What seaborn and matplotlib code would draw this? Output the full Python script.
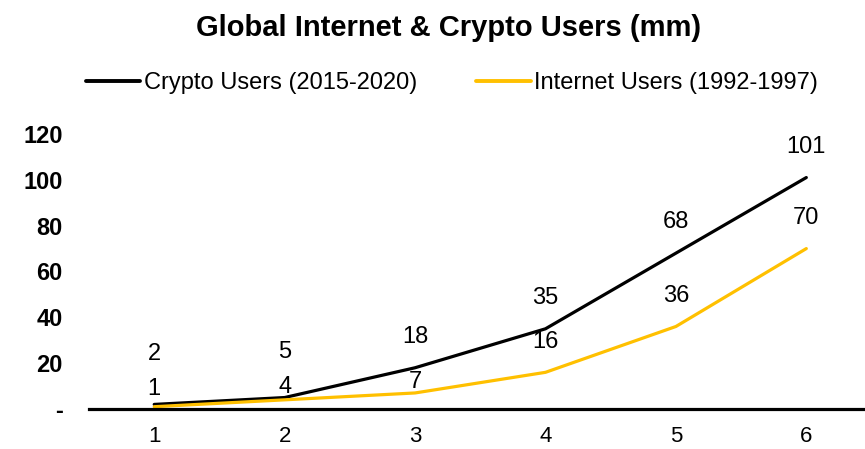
import matplotlib
matplotlib.use("Agg")
import matplotlib.pyplot as plt
import seaborn as sns
import pandas as pd
from matplotlib.lines import Line2D

periods = [1, 2, 3, 4, 5, 6]
crypto_users = [2, 5, 18, 35, 68, 101]
internet_users = [1, 4, 7, 16, 36, 70]
y_ticks = [0, 20, 40, 60, 80, 100, 120]
y_tick_labels = ["-", "20", "40", "60", "80", "100", "120"]
crypto_name = "Crypto Users (2015-2020)"
internet_name = "Internet Users (1992-1997)"

# label offsets (pixels above point)
crypto_offsets = [50, 46, 31, 31, 31, 31]
internet_offsets = [18, 13, 11, 30, 31, 31]

sns.set_theme(style="white")
plt.rcParams['font.family'] = ['Liberation Sans', 'DejaVu Sans']
plt.rcParams['text.color'] = 'black'
plt.rcParams['xtick.color'] = 'black'
plt.rcParams['ytick.color'] = 'black'

df = pd.DataFrame({
    "period": periods * 2,
    "users": crypto_users + internet_users,
    "series": [crypto_name] * 6 + [internet_name] * 6,
})

fig = plt.figure(figsize=(8.65, 4.49), dpi=100)
ax = fig.add_axes([89 / 865, 40 / 449, 776 / 865, 275 / 449])
sns.lineplot(data=df, x="period", y="users", hue="series",
             palette={crypto_name: "#000000", internet_name: "#FFC000"},
             linewidth=2.3, ax=ax, legend=False)

ax.set_xlim(0.5, 6.45)
ax.set_ylim(0, 120)
ax.set_yticks(y_ticks)
ax.set_yticklabels(y_tick_labels, fontweight="bold", fontsize=17)
ax.set_xticks(periods)
ax.set_xticklabels([str(p) for p in periods], fontsize=16)
ax.tick_params(axis="y", length=0, pad=19)
ax.tick_params(axis="x", length=0, pad=12)
ax.set_xlabel("")
ax.set_ylabel("")
for s in ["top", "right", "left"]:
    ax.spines[s].set_visible(False)
ax.spines["bottom"].set_color("black")
ax.spines["bottom"].set_linewidth(2.3)
ax.grid(False)

for x, v, off in zip(periods, crypto_users, crypto_offsets):
    ax.annotate(str(v), (x, v), xytext=(0, off * 0.72), textcoords="offset points",
                ha="center", va="center", fontsize=17, color="black")
for x, v, off in zip(periods, internet_users, internet_offsets):
    ax.annotate(str(v), (x, v), xytext=(0, off * 0.72), textcoords="offset points",
                ha="center", va="center", fontsize=17, color="black")

fig.text(449 / 865, 1 - 28 / 449, "Global Internet & Crypto Users (mm)",
         ha="center", va="center", fontsize=21, fontweight="bold", color="black")

handles = [Line2D([0], [0], color="#000000", lw=2.8),
           Line2D([0], [0], color="#FFC000", lw=2.8)]
fig.legend(handles, [crypto_name, internet_name], loc="center",
           bbox_to_anchor=(452 / 865, 1 - 83 / 449), ncol=2, frameon=False,
           fontsize=17, handlelength=2.3, handletextpad=0.15, columnspacing=2.5)

fig.savefig("out.png", dpi=100)
